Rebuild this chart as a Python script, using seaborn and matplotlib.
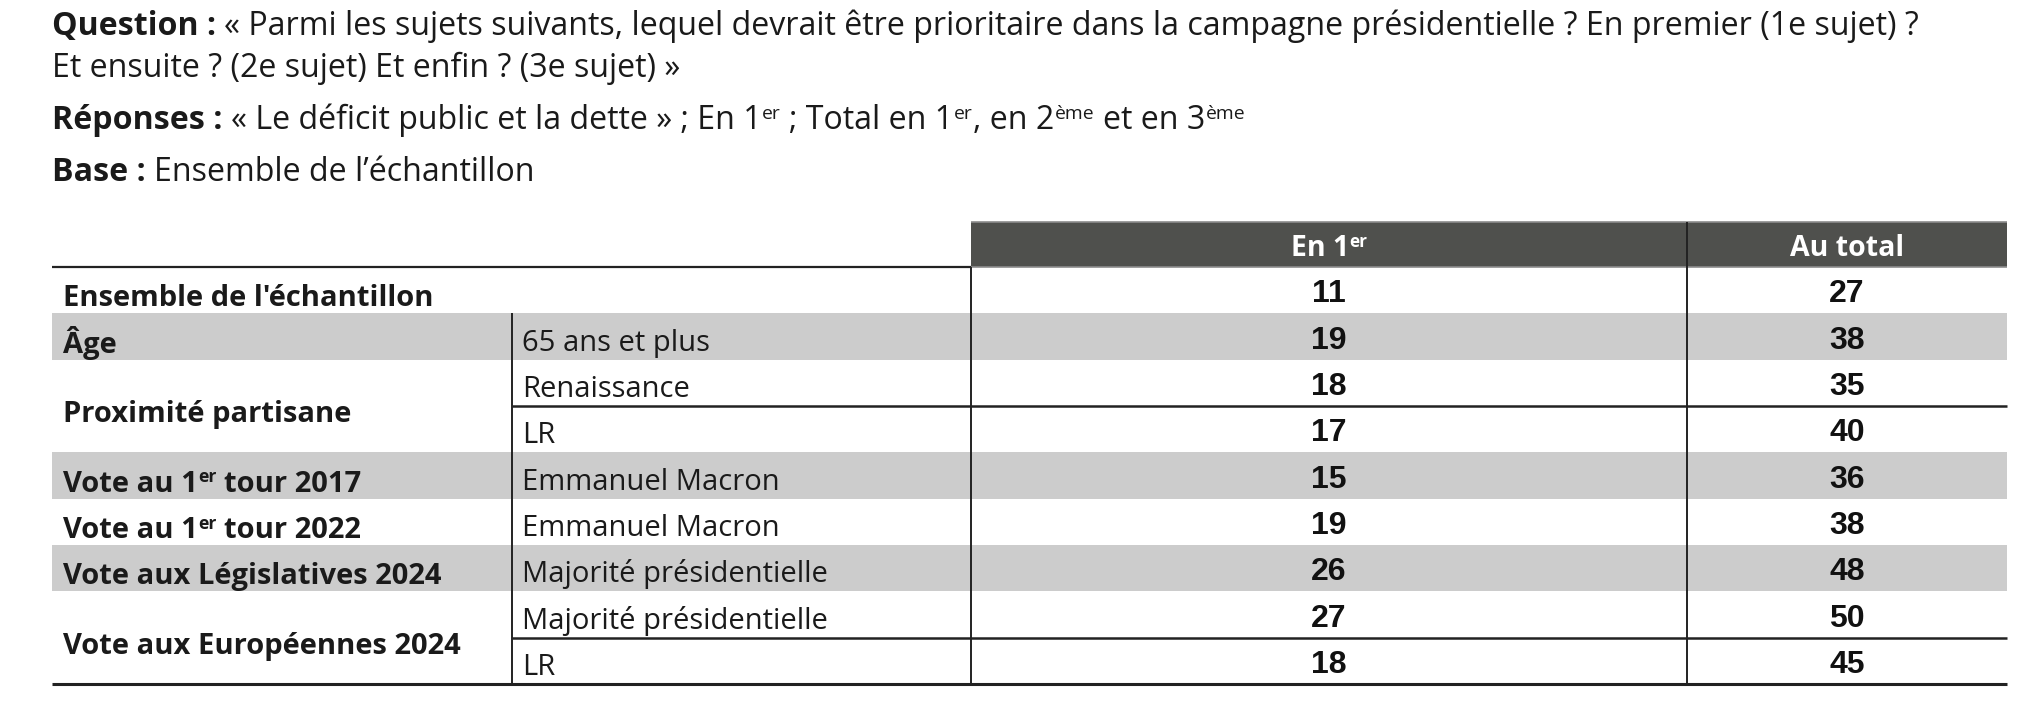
import re
import numpy as np
import pandas as pd
import matplotlib
matplotlib.use('Agg')
import matplotlib.pyplot as plt
from matplotlib import font_manager as fm
from matplotlib.colors import ListedColormap
from matplotlib.patches import Rectangle
import seaborn as sns

group_labels = ["Ensemble de l'échantillon", "Âge", "Proximité partisane",
                "Vote au 1^{er} tour 2017", "Vote au 1^{er} tour 2022",
                "Vote aux Législatives 2024", "Vote aux Européennes 2024"]
group_sizes = [1, 1, 2, 1, 1, 1, 2]
sub_labels = ["", "65 ans et plus", "Renaissance", "LR", "Emmanuel Macron",
              "Emmanuel Macron", "Majorité présidentielle", "Majorité présidentielle", "LR"]
en_premier = [11, 19, 18, 17, 15, 19, 26, 27, 18]
au_total = [27, 38, 35, 40, 36, 38, 48, 50, 45]
shaded = [0, 1, 0, 0, 1, 0, 1, 0, 0]
col_headers = ["En 1^{er}", "Au total"]

title_lines = [
    [("Question :", True), (" « Parmi les sujets suivants, lequel devrait être prioritaire dans la "
                            "campagne présidentielle ? En premier (1e sujet) ?", False)],
    [("Et ensuite ? (2e sujet) Et enfin ? (3e sujet) »", False)],
    [("Réponses :", True), (" « Le déficit public et la dette » ; En 1^{er} ; Total en 1^{er}, "
                            "en 2^{ème} et en 3^{ème}", False)],
    [("Base :", True), (" Ensemble de l’échantillon", False)],
]

# layout (pixels)
W, H = 2038, 702
PX = 100 / 72
X_LEFT, X_SUB, X_C1, X_C2, X_RIGHT = 52, 512, 971, 1687, 2007
Y_HEAD, Y_TOP, Y_BOT = 222, 267, 684
ROW_H = (Y_BOT - Y_TOP) / len(sub_labels)
INK = '#1a1a1a'
LINE = '#222222'
GREY = '#cccccc'
HEAD = '#4f504d'


def has_bold(family):
    for f in fm.fontManager.ttflist:
        if f.name != family:
            continue
        w = f.weight
        if isinstance(w, str):
            w = fm.weight_dict.get(w, 400)
        if w >= 600:
            return True
    return False


SANS = next(f for f in ['Open Sans', 'Noto Sans', 'Lato', 'Inter', 'Roboto', 'DejaVu Sans']
            if has_bold(f))

sns.set_theme(style='white')
plt.rcParams['font.family'] = [SANS, 'DejaVu Sans']

fig = plt.figure(figsize=(W / 100, H / 100), dpi=100)
stripe_cmap = ListedColormap(['white', GREY])
stripes = pd.DataFrame({'s': shaded}, dtype=float)


def table_axes(x0, x1):
    return fig.add_axes([x0 / W, 1 - Y_BOT / H, (x1 - x0) / W, (Y_BOT - Y_TOP) / H])


num_kws = {'fontsize': 23, 'fontweight': 'bold', 'color': '#111111',
           'fontfamily': ['Liberation Sans Narrow', 'Liberation Sans', 'DejaVu Sans']}
for x0, x1, vals in [(X_LEFT, X_C1, None), (X_C1, X_C2, en_premier), (X_C2, X_RIGHT, au_total)]:
    hax = table_axes(x0, x1)
    sns.heatmap(stripes, ax=hax, cmap=stripe_cmap, vmin=0, vmax=1, cbar=False,
                xticklabels=False, yticklabels=False,
                annot=None if vals is None else np.array(vals).reshape(-1, 1),
                fmt='d', annot_kws=num_kws)
    for sp in hax.spines.values():
        sp.set_visible(False)
    for t in hax.texts:
        tx, ty = t.get_position()
        t.set_position((tx, ty + 0.09))

ax = fig.add_axes([0, 0, 1, 1])
ax.set_xlim(0, W)
ax.set_ylim(H, 0)
ax.set_axis_off()
ax.patch.set_alpha(0)
renderer = fig.canvas.get_renderer()


def split_sup(s):
    parts = re.split(r'\^\{(.*?)\}', s)
    return [(p, i % 2 == 1) for i, p in enumerate(parts) if p]


def rich(x, y, segments, size, color=INK, ha='left'):
    em = size * PX
    cx = x
    texts = []
    for seg, bold in segments:
        for piece, sup in split_sup(seg):
            lead = len(piece) - len(piece.lstrip(' '))
            trail = len(piece) - len(piece.rstrip(' '))
            cx += lead * em * 0.26
            if sup:
                cx += em * 0.02
            t = ax.text(cx, y - (em * 0.32 if sup else 0), piece.strip(' '),
                        fontsize=size * 0.6 if sup else size,
                        fontweight='bold' if bold else 'normal',
                        color=color, ha='left', va='baseline')
            cx += t.get_window_extent(renderer).width + trail * em * 0.26
            texts.append(t)
    if ha == 'center':
        shift = (cx - x) / 2
        for t in texts:
            tx, ty = t.get_position()
            t.set_position((tx - shift, ty))
    return texts, cx - x


def fit_size(segments, target, nominal):
    texts, w = rich(0, 0, segments, nominal)
    for t in texts:
        t.remove()
    return nominal * min(max(target / w, 0.85), 1.25)


title_size = fit_size(title_lines[0], 1870, 19)
label_size = fit_size([(group_labels[0], True)], 372, 18)
head_size = fit_size([(col_headers[1], True)], 114, 19)

# title block
for line, base in zip(title_lines, [35, 77, 129, 181]):
    rich(X_LEFT, base, line, title_size)

# header bar
ax.add_patch(Rectangle((X_C1, Y_HEAD), X_RIGHT - X_C1, Y_TOP - Y_HEAD, color=HEAD, lw=0))
ax.hlines(Y_HEAD, X_C1, X_RIGHT, color='#8c8c8c', lw=1.2)
ax.hlines(Y_TOP, X_C1, X_RIGHT, color='#8c8c8c', lw=1.2)
for (x0, x1), label in zip([(X_C1, X_C2), (X_C2, X_RIGHT)], col_headers):
    rich((x0 + x1) / 2, Y_HEAD + 34, [(label, True)], head_size, color='white', ha='center')


def row_center(i0, n=1):
    return Y_TOP + (i0 + n / 2) * ROW_H


# row labels
start = 0
for label, n in zip(group_labels, group_sizes):
    rich(X_LEFT + 11, row_center(start, n) + 16, [(label, True)], label_size)
    start += n
for i, label in enumerate(sub_labels):
    if label:
        rich(X_SUB + 10, row_center(i) + 14, [(label, False)], label_size)

# rules
ax.hlines(Y_TOP, X_LEFT, X_C1, color=LINE, lw=1.6)
ax.vlines(X_SUB, Y_TOP + ROW_H, Y_BOT, color=LINE, lw=1.4)
ax.vlines(X_C1, Y_TOP, Y_BOT, color=LINE, lw=1.4)
ax.vlines(X_C2, Y_HEAD, Y_BOT, color=LINE, lw=1.4)
start = 0
for n in group_sizes:
    for k in range(1, n):
        ax.hlines(Y_TOP + (start + k) * ROW_H, X_SUB, X_RIGHT, color=LINE, lw=1.8)
    start += n
ax.hlines(Y_BOT, X_LEFT, X_RIGHT, color=LINE, lw=2.2)

fig.savefig('out.png', dpi=100, facecolor='white')
